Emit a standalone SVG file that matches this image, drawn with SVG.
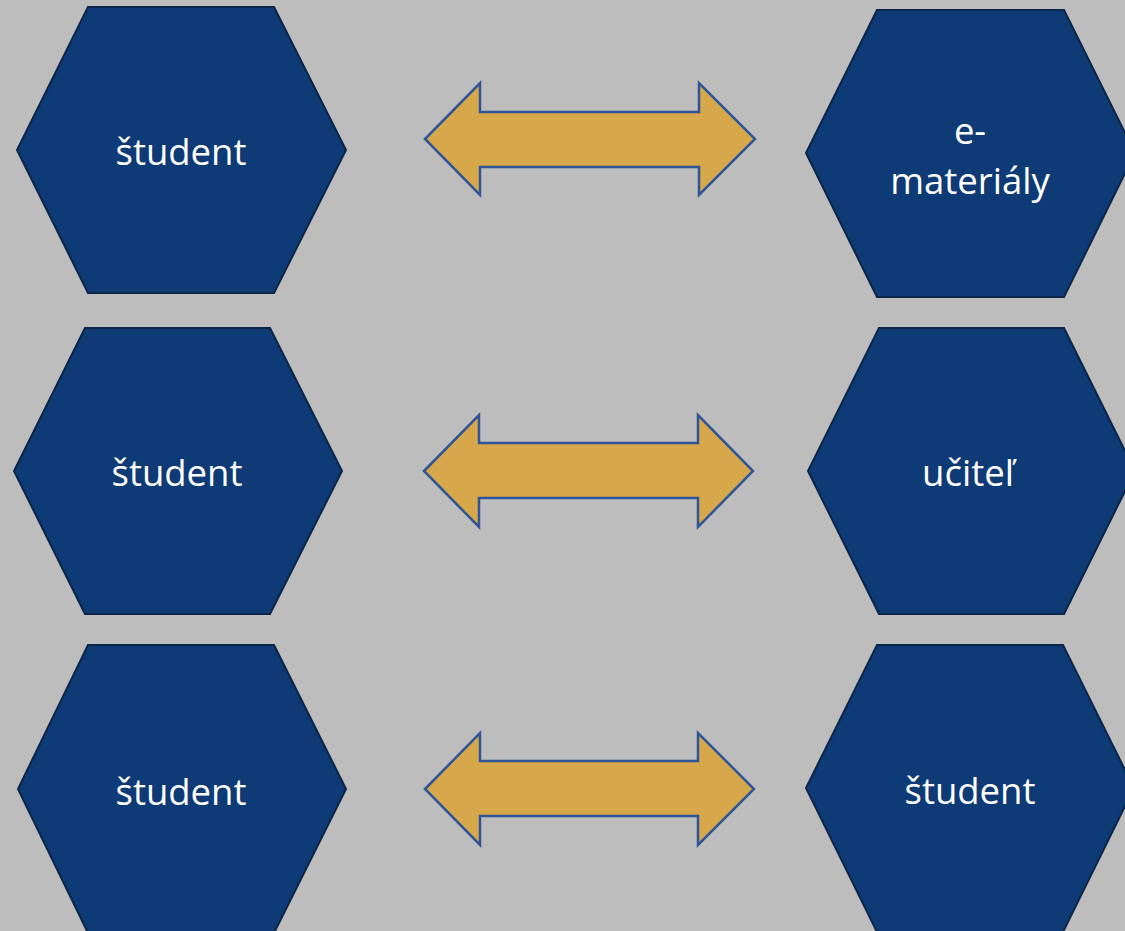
<svg xmlns="http://www.w3.org/2000/svg" width="1125" height="931" viewBox="0 0 1125 931">
<style>
.hex{fill:#0E3A75;stroke:#0B2548;stroke-width:2}
.arr{fill:#D7A74C;stroke:#2F5597;stroke-width:2.5;stroke-linejoin:miter}
.lbl{fill:#FFFFFF;font-family:"Open Sans","Liberation Sans",sans-serif;font-size:36.5px;text-anchor:middle}
</style>
<rect width="1125" height="931" fill="#BDBDBD"/>
<g id="connectors">
<polygon class="arr" points="425,139 480,83 480,112 699,112 699,83 755,139 699,195 699,167 480,167 480,195"/>
<polygon class="arr" points="424,471 479,415 479,443 698,443 698,415 753,471 698,527 698,498 479,498 479,527"/>
<polygon class="arr" points="425,789 480,733 480,761 698,761 698,733 754,789 698,845 698,816 480,816 480,845"/>
</g>
<g id="n1">
<polygon class="hex" points="88,7 274,7 346,150 274,293 88,293 17,150"/>
<text class="lbl" x="181" y="165">študent</text>
</g>
<g id="n2">
<polygon class="hex" points="85,328 270,328 342,471 270,614 85,614 14,471"/>
<text class="lbl" x="177" y="486">študent</text>
</g>
<g id="n3">
<polygon class="hex" points="88,645 274,645 346,789 274,933 88,933 18,789"/>
<text class="lbl" x="181" y="805">študent</text>
</g>
<g id="n4">
<polygon class="hex" points="877,10 1064,10 1135,153 1064,297 877,297 806,153"/>
<text class="lbl" x="970" y="144">e-</text>
<text class="lbl" x="970" y="194">materiály</text>
</g>
<g id="n5">
<polygon class="hex" points="879,328 1064,328 1135,471 1064,614 879,614 808,471"/>
<text class="lbl" x="968" y="486">učiteľ</text>
</g>
<g id="n6">
<polygon class="hex" points="877,645 1063,645 1134,788 1063,932 877,932 806,788"/>
<text class="lbl" x="970" y="804">študent</text>
</g>
</svg>
